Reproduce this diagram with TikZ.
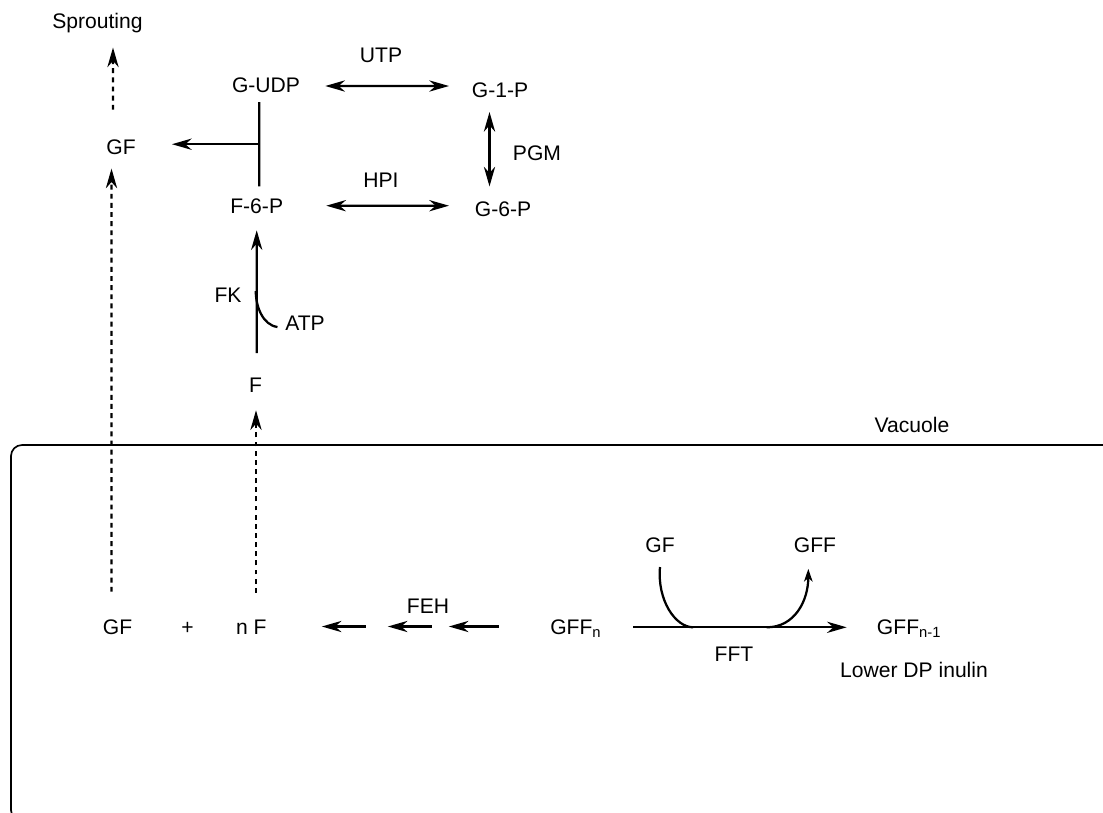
\documentclass[tikz,border=0pt]{standalone}
\usepackage{fontspec}
\setmainfont{Liberation Sans}
\usetikzlibrary{arrows.meta}
\begin{document}
\begin{tikzpicture}[x=0.025cm, y=-0.025cm,
	lbl/.style = {inner sep=0pt, text height=10.7pt, text depth=0pt, font=\fontsize{15}{18}\selectfont},
	rxn/.style = {line width=1.6pt, -{Stealth[length=14pt, width=8pt, inset=4.5pt]}},
	eq/.style = {line width=1.6pt, {Stealth[length=14pt, width=8pt, inset=4.5pt]}-{Stealth[length=14pt, width=8pt, inset=4.5pt]}},
	transport/.style = {rxn, dash pattern=on 3.5pt off 3pt},
	side/.style = {line width=1.6pt}]
	\useasboundingbox (0,0) rectangle (1103,812);
	% vacuole, runs off the page
	\begin{scope}
		\clip (0,0) rectangle (1103,812);
		\draw[line width=1.2pt, rounded corners=0.275cm] (11,445) rectangle (1130,821);
	\end{scope}

	\node[lbl] (sprout) at (97.5,21) {Sprouting};
	\node[lbl] (gf1) at (121,147) {GF};
	\node[lbl] (gudp) at (266,84.5) {G-UDP};
	\node[lbl] (f6p) at (256.7,205.5) {F-6-P};
	\node[lbl] (g1p) at (500,90) {G-1-P};
	\node[lbl] (g6p) at (503,208.5) {G-6-P};
	\node[lbl] (utp) at (381,55) {UTP};
	\node[lbl] (hpi) at (381,180) {HPI};
	\node[lbl] (pgm) at (537,152.5) {PGM};
	\node[lbl] (fk) at (228,294.5) {FK};
	\node[lbl] (atp) at (305,323) {ATP};
	\node[lbl] (f1) at (255.5,384.5) {F};
	\node[lbl] (vac) at (912,424.5) {Vacuole};
	\node[lbl] (gf2) at (117.5,626.5) {GF};
	\node[lbl] (plus) at (187.5,626.5) {+};
	\node[lbl] (nf) at (251.3,626.5) {n F};
	\node[lbl] (feh) at (428,605.5) {FEH};
	\node[lbl, anchor=west] (gffn) at (550,626.5) {GFF\textsubscript{n}};
	\node[lbl] (gfin) at (660,544.5) {GF};
	\node[lbl] (gffout) at (815,545) {GFF};
	\node[lbl] (fft) at (734,653.5) {FFT};
	\node[lbl, anchor=west] (gffm) at (876.7,626.5) {GFF\textsubscript{n-1}};
	\node[lbl] (lowdp) at (914,669.5) {Lower DP inulin};

	% transport out of the vacuole
	\draw[transport] ([shift={(-8,-29.5)}]gf1.north) -- ([shift={(15.5,18.7)}]sprout.south);
	\draw[transport] ([shift={(-6,-27)}]gf2.north) -- ([shift={(-9.5,13.8)}]gf1.south);
	\draw[transport] ([shift={(4.7,-26)}]nf.north) -- ([shift={(0.5,18)}]f1.south);

	% cytosol
	\draw[rxn] ([shift={(1.2,-23.7)}]f1.north) -- ([shift={(0,17)}]f6p.south);
	\draw[side] ([shift={(-7.5,4)}]atp.west) .. controls +(-15,-2) and +(0,15) .. ([shift={(14,-3.5)}]fk.east);
	\draw[side] ([shift={(-6.7,9.7)}]gudp.south) -- coordinate[pos=0.5] (junc) ([shift={(2.6,-11.3)}]f6p.north);
	\draw[rxn, shorten >=0.9cm] (junc) -- (junc -| gf1.east);
	\draw[eq] ([shift={(25,1.5)}]gudp.east) -- ([shift={(-22.6,-4)}]g1p.west);
	\draw[eq] ([shift={(42.9,0.2)}]f6p.east) -- ([shift={(-25.6,-2.8)}]g6p.west);
	\draw[eq] ([shift={(-10.5,14.2)}]g1p.south) -- ([shift={(-13.5,-14.3)}]g6p.north);

	% hydrolysis
	\foreach \s/\e in {99/55, 165/121, 232/182}
		\draw[rxn] ([shift={(\s,0)}]nf.east) -- ([shift={(\e,0)}]nf.east);

	% fructosyl transfer
	\draw[rxn] ([shift={(83.3,0.8)}]gffn.west) -- coordinate[pos=0.281] (fftin) coordinate[pos=0.625] (fftout) ([shift={(-30,0.8)}]gffm.west);
	\draw[side] ([shift={(0,14.7)}]gfin.south) .. controls +(-3,33) and +(-18,0) .. (fftin);
	\draw[side, -{Stealth[length=9pt, width=6pt, inset=2.5pt]}] (fftout) .. controls +(28,0) and +(0,32) .. ([shift={(-6.7,16)}]gffout.south);
\end{tikzpicture}
\end{document}
